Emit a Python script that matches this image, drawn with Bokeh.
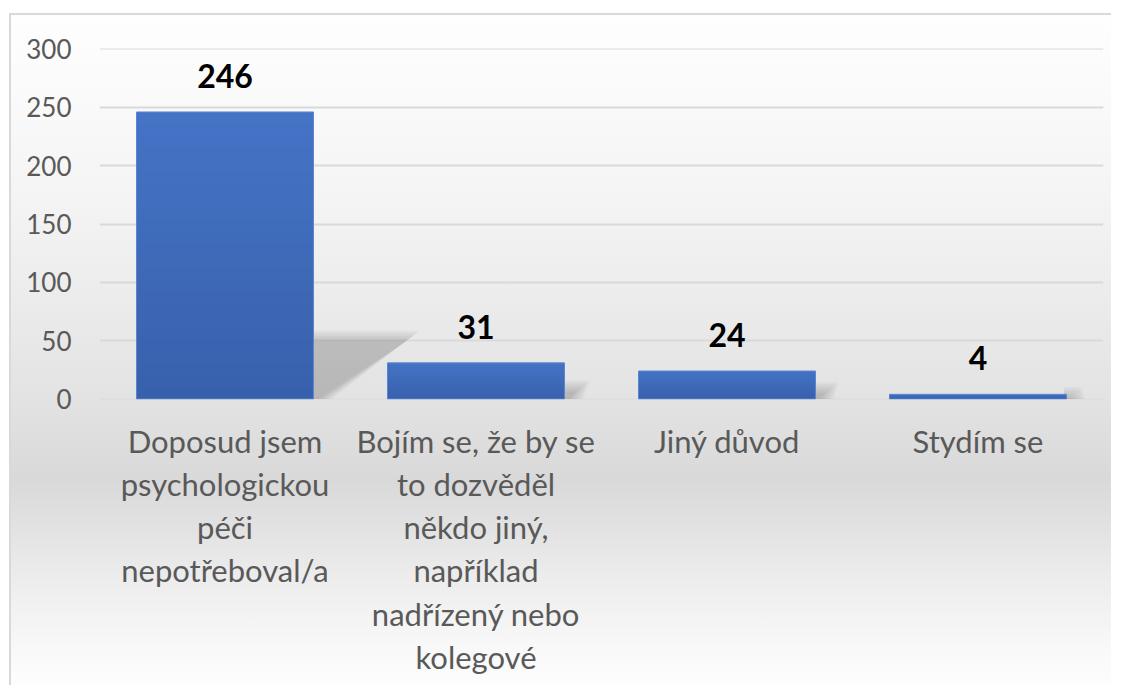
from bokeh.plotting import figure
from bokeh.models import ColumnDataSource, FixedTicker, InlineStyleSheet
from bokeh.core.properties import value
from bokeh.embed import file_html
from bokeh.resources import INLINE

labels = [
    "Doposud jsem\npsychologickou\npéči\nnepotřeboval/a",
    "Bojím se, že by se\nto dozvěděl\nněkdo jiný,\nnapříklad\nnadřízený nebo\nkolegové",
    "Jiný důvod",
    "Stydím se",
]
counts = [246, 31, 24, 4]
y_ticks = [0, 50, 100, 150, 200, 250, 300]

BAR_W = 0.705
TOP_RGB = (0x45, 0x73, 0xC5)
BOT_RGB = (0x38, 0x61, 0xAD)
N_BANDS = 24

css = InlineStyleSheet(css=""":host {
  background:
    linear-gradient(#d9d9d9, #d9d9d9) 9px 13px / 2px 100% no-repeat,
    linear-gradient(#ffffff, #ffffff) 0 0 / 9px 100% no-repeat,
    linear-gradient(to bottom, #ffffff 0px, #ffffff 13px, #d9d9d9 13px, #d9d9d9 15px,
      #fefefe 15px, #fafafa 14%, #f4f4f4 29%, #ececec 43%, #e3e3e3 58%, #d9d9d9 70%,
      #e2e2e2 77%, #ececec 84%, #f9f9f9 95%, #fdfdfd 100%);
}""")

p = figure(x_range=labels, y_range=(-0.4, 300.4), width=1111, height=685,
           output_backend="svg", toolbar_location=None,
           min_border_left=99, min_border_right=8, min_border_top=48, min_border_bottom=286)
p.stylesheets = [css]
p.background_fill_alpha = 0
p.border_fill_alpha = 0
p.outline_line_color = None

# soft perspective shadows behind the bars (derived from each bar's value)
for layer in range(7):
    grow_x = 0.009 * layer
    grow_y = 1.6 * layer
    xs, ys = [], []
    for i, v in enumerate(counts):
        right = i + 0.5 + BAR_W / 2
        h = v * 0.20 + grow_y
        reach = 0.37 * v / max(counts) + grow_x
        xs.append([right - 0.01, right - 0.01, right + reach, right + 0.02 + grow_x])
        ys.append([0, h, h, 0])
    p.patches(xs, ys, fill_color="#000000", fill_alpha=0.028, line_color=None)

# bars with a vertical gradient (overlapping bands, tallest first)
band_x, band_top, band_col = [], [], []
for j in range(N_BANDS):
    t = j / (N_BANDS - 1)
    col = "#%02x%02x%02x" % tuple(int(round(a + (b - a) * t)) for a, b in zip(TOP_RGB, BOT_RGB))
    for lab, v in zip(labels, counts):
        band_x.append(lab)
        band_top.append(v * (1 - j / N_BANDS))
        band_col.append(col)
p.vbar(x=band_x, top=band_top, width=BAR_W, fill_color=band_col, line_color=None)
p.vbar(x=labels, top=counts, width=BAR_W, fill_color=None, line_color="#5b87d2", line_width=1)

src = ColumnDataSource(dict(x=labels, top=counts, lab=[str(v) for v in counts]))
p.text(x="x", y="top", text="lab", source=src, text_align="center", text_baseline="bottom",
       y_offset=-24, text_font=value("Lato"), text_font_style="bold", text_font_size="32px",
       text_color="#000000")

p.yaxis.ticker = FixedTicker(ticks=y_ticks)
p.yaxis.axis_line_color = None
p.yaxis.major_tick_line_color = None
p.yaxis.minor_tick_line_color = None
p.yaxis.major_label_text_font = "Lato"
p.yaxis.major_label_text_font_size = "26px"
p.yaxis.major_label_text_color = "#595959"
p.yaxis.major_label_standoff = 22

p.xaxis.axis_line_color = None
p.xaxis.major_tick_line_color = None
p.xaxis.major_label_text_font = "Lato"
p.xaxis.major_label_text_font_size = "31px"
p.xaxis.major_label_text_color = "#595959"
p.xaxis.major_label_text_line_height = 1.14
p.xaxis.major_label_standoff = 16

p.xgrid.grid_line_color = None
p.ygrid.grid_line_color = "#d9d9d9"
p.ygrid.grid_line_width = 2
p.ygrid.level = "underlay"

open("out.html", "w").write(file_html(p, INLINE))
